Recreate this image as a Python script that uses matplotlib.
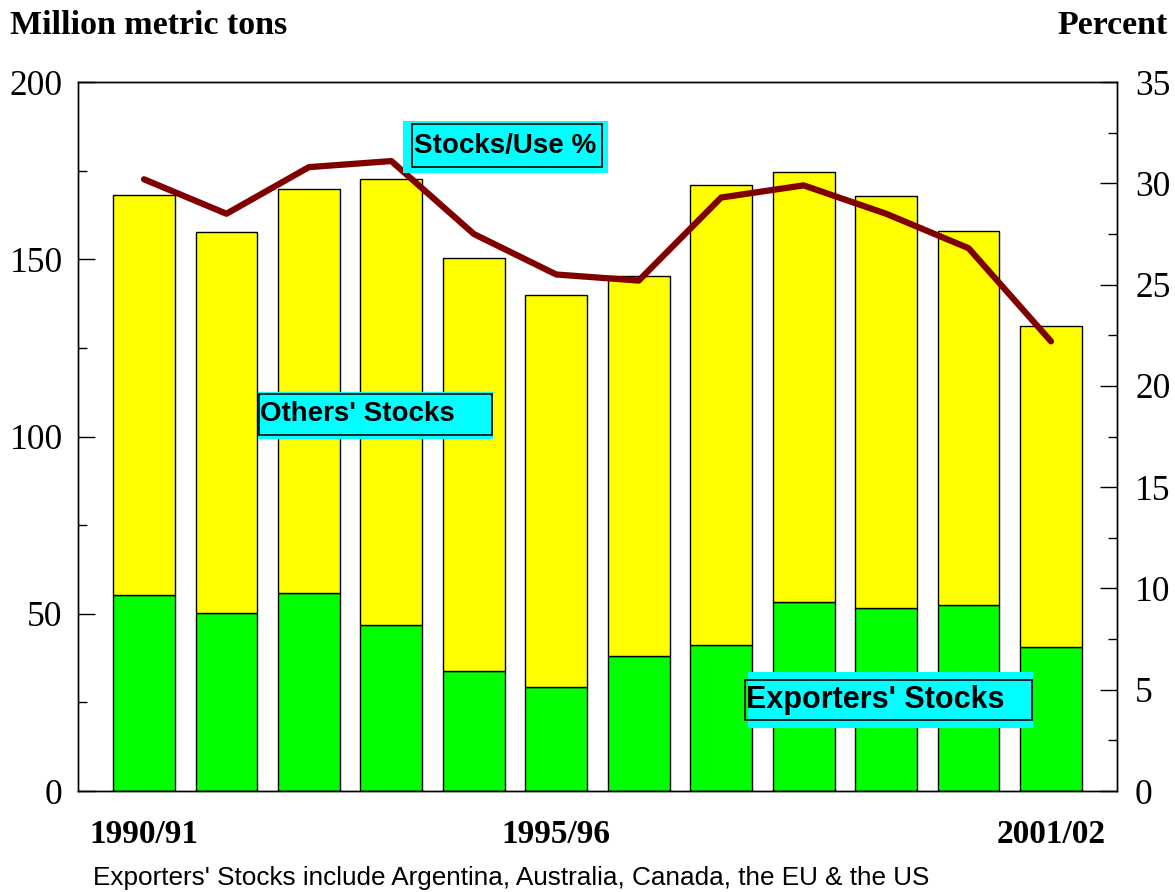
import numpy as np
import matplotlib.pyplot as plt
from matplotlib.ticker import MultipleLocator
from matplotlib.patches import Rectangle

# marketing years, only three carry a label
years = ["1990/91", "1991/92", "1992/93", "1993/94", "1994/95", "1995/96",
         "1996/97", "1997/98", "1998/99", "1999/00", "2000/01", "2001/02"]
shown = ["1990/91", "1995/96", "2001/02"]

# million metric tons
exporters = [55.3, 50.2, 55.9, 46.8, 33.9, 29.3, 38.1, 41.2, 53.3, 51.6, 52.5, 40.6]
total = [168.1, 157.7, 169.8, 172.6, 150.4, 139.9, 145.3, 170.9, 174.6, 167.8, 158.0, 131.2]
others = [t - e for t, e in zip(total, exporters)]

# percent
stocks_use = [30.2, 28.5, 30.8, 31.1, 27.5, 25.5, 25.2, 29.3, 29.9, 28.5, 26.8, 22.2]

serif = ['Liberation Serif', 'DejaVu Serif']
sans = ['Liberation Sans', 'DejaVu Sans']

W, H = 1175, 892
fig = plt.figure(figsize=(W / 100, H / 100), dpi=100)
ax = fig.add_axes([0.0664, 0.1132, 0.8842, 0.7948])
x = np.arange(len(years))

ax.bar(x, exporters, width=0.75, color='#00FF00', edgecolor='black', linewidth=1.0, zorder=2)
ax.bar(x, others, bottom=exporters, width=0.75, color='#FFFF00', edgecolor='black', linewidth=1.0, zorder=2)

ax.set_xlim(-0.8, 11.8)
ax.set_ylim(0, 200)
ax.yaxis.set_major_locator(MultipleLocator(50))
ax.yaxis.set_minor_locator(MultipleLocator(25))
ax.set_xticks(x)
ax.set_xticklabels([y if y in shown else "" for y in years],
                   fontfamily=serif, fontweight='bold', fontsize=24)
ax.tick_params(axis='x', direction='in', length=12, width=1, pad=20, top=False)
ax.tick_params(axis='y', which='major', direction='in', length=12, width=1, labelsize=25.5, pad=11)
ax.tick_params(axis='y', which='minor', direction='in', length=6.5, width=1)
for lab in ax.get_yticklabels():
    lab.set_fontfamily(serif)

ax2 = ax.twinx()
ax2.plot(x, stocks_use, color='#800000', linewidth=4.5, zorder=3, solid_capstyle='round')
ax2.set_ylim(0, 35)
ax2.yaxis.set_major_locator(MultipleLocator(5))
ax2.yaxis.set_minor_locator(MultipleLocator(2.5))
ax2.tick_params(axis='y', which='major', direction='in', length=12, width=1, labelsize=25.5, pad=13)
ax2.tick_params(axis='y', which='minor', direction='in', length=6.5, width=1)
for lab in ax2.get_yticklabels():
    lab.set_fontfamily(serif)

for a in (ax, ax2):
    for s in a.spines.values():
        s.set_linewidth(1.0)


# label boxes in pixel coords: cyan pad, black frame, bold text
def px_rect(x0, y0, x1, y1, **kw):
    r = Rectangle((x0 / W, 1 - y1 / H), (x1 - x0) / W, (y1 - y0) / H,
                  transform=fig.transFigure, **kw)
    fig.add_artist(r)


def label_box(text, cyan, frame, tx, ty, size=20):
    px_rect(*cyan, facecolor='#00FFFF', edgecolor='none', zorder=5)
    px_rect(*frame, facecolor='none', edgecolor='black', linewidth=1.2, zorder=6)
    fig.text(tx / W, 1 - ty / H, text, fontfamily=sans, fontweight='bold', fontsize=size,
             va='center', ha='left', zorder=7)


label_box("Stocks/Use %", (403, 121, 608, 173), (412, 124, 602, 167), 414, 146)
label_box("Others' Stocks", (258, 392, 493, 439), (259, 394, 492, 435), 260, 414)
label_box("Exporters' Stocks", (748, 672, 1033, 728), (745, 680, 1032, 720), 746, 700, size=22)

fig.text(10 / W, 1 - 25 / H, "Million metric tons", fontfamily=serif, fontweight='bold',
         fontsize=24.5, va='center', ha='left')
fig.text(1168 / W, 1 - 25 / H, "Percent", fontfamily=serif, fontweight='bold',
         fontsize=24.5, va='center', ha='right')
fig.text(93 / W, 1 - 878 / H, "Exporters' Stocks include Argentina, Australia, Canada, the EU & the US",
         fontfamily=sans, fontsize=18.8, va='center', ha='left')

fig.savefig("out.png", dpi=100)
